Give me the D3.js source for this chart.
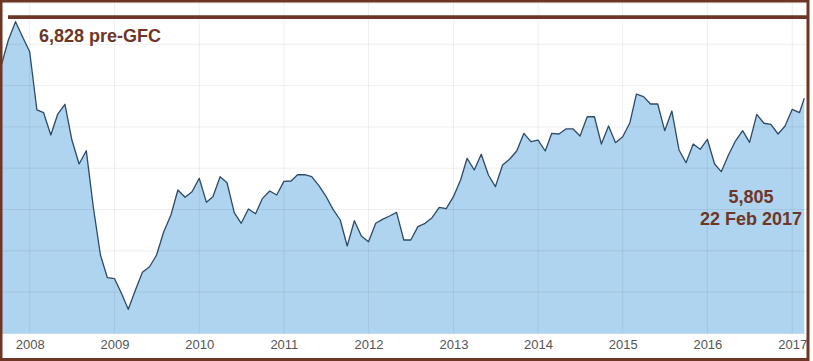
<!DOCTYPE html>
<html>
<head>
<meta charset="utf-8">
<script src="https://cdn.jsdelivr.net/npm/d3@7"></script>
<style>
  html, body { margin: 0; padding: 0; background: #fff; }
  svg { display: block; }
  text { font-family: "Liberation Sans", Arial, sans-serif; }
</style>
</head>
<body>
<svg id="chart" width="813" height="361"></svg>
<script>
// ---- data (ASX 200, monthly, Sep 2007 – 22 Feb 2017) ----
const firstMonth = "2007-09-01";
const lastDate = "2017-02-22";
const values = [
  6249, 6552, 6774, 6592,
  6410, 5705, 5672, 5402, 5656, 5774, 5341, 5051, 5212, 4534, 3949, 3674,
  3662, 3477, 3292, 3525, 3740, 3807, 3949, 4231, 4433, 4736, 4648, 4715,
  4878, 4587, 4655, 4897, 4824, 4461, 4333, 4506, 4449, 4635, 4724, 4675,
  4841, 4845, 4921, 4921, 4897, 4788, 4663, 4502, 4373, 4058, 4364, 4179,
  4110, 4333, 4381, 4421, 4466, 4131, 4131, 4292, 4333, 4401, 4526, 4510,
  4655, 4857, 5120, 4978, 5168, 4918, 4776, 5039, 5111, 5208, 5422, 5321,
  5341, 5208, 5422, 5414, 5475, 5475, 5390, 5623, 5623, 5293, 5511, 5309,
  5381, 5551, 5898, 5866, 5777, 5777, 5454, 5692, 5220, 5066, 5293, 5229,
  5350, 5051, 4958, 5160, 5329, 5454, 5313, 5652, 5544, 5531, 5414, 5511,
  5713, 5672, 5846
];
const preGFC = 6828;
const preGFCLabel = "6,828 pre-GFC";
const lastLabel = ["5,805", "22 Feb 2017"];
const yTicks = [3000, 3500, 4000, 4500, 5000, 5500, 6000, 6500, 7000];
const yearTicks = ["2008","2009","2010","2011","2012","2013","2014","2015","2016","2017"];

// dates: one per month, last point on 22 Feb 2017
const parse = d3.timeParse("%Y-%m-%d");
const start = parse(firstMonth);
const dates = values.map((v, i) => i === values.length - 1 ? parse(lastDate) : d3.timeMonth.offset(start, i));
const data = values.map((v, i) => ({ date: dates[i], value: v }));

// ---- layout ----
const svg = d3.select("#chart");
const brown = "#6d3626";
const x = d3.scaleTime().domain([dates[0], dates[dates.length - 1]]).range([1.4, 804.3]);
const y = d3.scaleLinear().domain([3000, 7000]).range([333.4, 3]);

const clip = svg.append("defs").append("clipPath").attr("id", "plotclip")
  .append("rect").attr("x", 2).attr("y", 2).attr("width", 805).attr("height", 332);

const g = svg.append("g").attr("clip-path", "url(#plotclip)");

// area
g.append("path").datum(data)
  .attr("fill", "#afd4ef")
  .attr("d", d3.area().x(d => x(d.date)).y0(y(3000)).y1(d => y(d.value)));

// gridlines (drawn over area, faint)
const yearDates = yearTicks.map(t => parse(t + "-01-01"));
g.selectAll("line.hg").data(yTicks).enter().append("line")
  .attr("x1", 2).attr("x2", 807)
  .attr("y1", d => y(d)).attr("y2", d => y(d))
  .attr("stroke", "rgba(0,0,0,0.065)").attr("stroke-width", 1);
g.selectAll("line.vg").data(yearDates).enter().append("line")
  .attr("x1", d => x(d)).attr("x2", d => x(d))
  .attr("y1", 2).attr("y2", 334)
  .attr("stroke", "rgba(0,0,0,0.065)").attr("stroke-width", 1);

// line
g.append("path").datum(data)
  .attr("fill", "none")
  .attr("stroke", "#2e4a66")
  .attr("stroke-width", 1.3)
  .attr("stroke-linejoin", "round")
  .attr("d", d3.line().x(d => x(d.date)).y(d => y(d.value)));

// x axis labels
const xAxis = d3.axisBottom(x).tickValues(yearDates).tickFormat(d3.timeFormat("%Y")).tickSize(0).tickPadding(0);
const ax = svg.append("g").attr("transform", "translate(0,340)").call(xAxis);
ax.select(".domain").remove();
ax.selectAll("text")
  .attr("fill", "#555").attr("font-size", "13px")
  .attr("font-family", "'Liberation Sans', Arial, sans-serif")
  .attr("dy", "0.71em").attr("y", 0);

// pre-GFC reference line
svg.append("line")
  .attr("x1", 8).attr("x2", 808)
  .attr("y1", y(preGFC)).attr("y2", y(preGFC))
  .attr("stroke", brown).attr("stroke-width", 3.8);
svg.append("text")
  .attr("x", 39).attr("y", 41.7)
  .attr("fill", brown).attr("font-size", "18px").attr("font-weight", "bold")
  .text(preGFCLabel);

// last value annotation
svg.append("text").attr("x", 751).attr("y", 203.3).attr("text-anchor", "middle")
  .attr("fill", brown).attr("font-size", "18px").attr("font-weight", "bold").text(lastLabel[0]);
svg.append("text").attr("x", 751).attr("y", 225).attr("text-anchor", "middle")
  .attr("fill", brown).attr("font-size", "18px").attr("font-weight", "bold").text(lastLabel[1]);

// frame
svg.append("rect").attr("x", 1).attr("y", 1).attr("width", 807).attr("height", 358.5)
  .attr("fill", "none").attr("stroke", brown).attr("stroke-width", 3);
</script>
</body>
</html>
